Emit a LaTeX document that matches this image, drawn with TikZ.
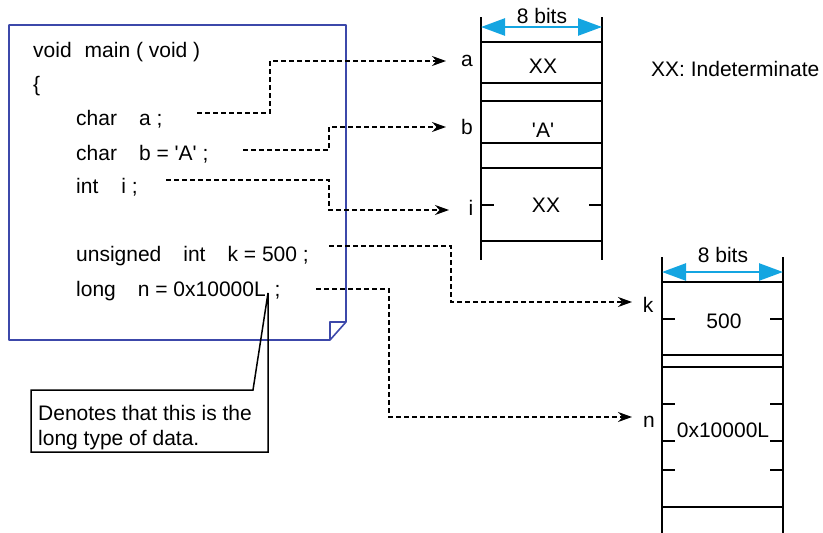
\documentclass[tikz,border=0pt]{standalone}
\usepackage{fontspec}
\setmainfont{Liberation Sans}
\usetikzlibrary{arrows.meta}
\definecolor{boxblue}{RGB}{60,72,170}
\definecolor{bitcyan}{RGB}{20,165,225}
\begin{document}
\begin{tikzpicture}[x=1pt,y=-1pt,
  txt/.style={inner sep=0pt, font=\fontsize{21}{25}\selectfont},
  code/.style={txt, anchor=base west},
  dashline/.style={line width=1.6pt, dash pattern=on 5pt off 3pt, -{Stealth[length=14pt,width=10pt]}},
  mem/.style={line width=2.8pt},
  bits/.style={bitcyan, line width=2.5pt, {Triangle[length=24pt,width=17pt]}-{Triangle[length=24pt,width=17pt]}},
  ]
\useasboundingbox (0,0) rectangle (823,533);

% code sheet
\draw[boxblue, line width=1.6pt, line join=round] (346,322) -- (346,25) -- (9,25) -- (9,340) -- (330,340) -- cycle;
\draw[boxblue, line width=1.6pt, line join=round] (330,340) -- (330,322) -- (346,322);

\node[code] (l1) at (33,57) {void\hspace{13pt}main ( void )};
\node[code] (l2) at (33,91) {\{};
\node[code] (l3) at (76,125) {char\hspace{22pt}a ;};
\node[code] (l4) at (76,160) {char\hspace{22pt}b = \textquotesingle A\textquotesingle\ ;};
\node[code] (l5) at (76,193) {int\hspace{23pt}i ;};
\node[code] (l6) at (76,261) {unsigned\hspace{22pt}int\hspace{22pt}k = 500 ;};
\node[code] (l7) at (76,296) {long\hspace{22pt}n = 0x10000L\hspace{9pt};};

% memory column 1
\draw[mem] (481,17) -- (481,260);
\draw[mem] (602,17) -- (602,260);
\foreach \yy in {42,83,101,143,168,241} \draw[mem] (481,\yy) -- (602,\yy);
\draw[mem] (481,205) -- (494,205);
\draw[mem] (589,205) -- (602,205);
\draw[bits] (481,27) -- (602,27);
\node[txt] (w1) at (542,16) {8 bits};
\node[txt] (va) at (543,66) {XX};
\node[txt] (vb) at (543,130) {\textquotesingle A\textquotesingle};
\node[txt] (vi) at (546,205) {XX};
\node[txt, anchor=west] (legend) at (651,69) {XX: Indeterminate};

% memory column 2
\draw[mem] (662,257) -- (662,533);
\draw[mem] (783,257) -- (783,533);
\foreach \yy in {282,355,367,507} \draw[mem] (662,\yy) -- (783,\yy);
\foreach \yy in {319,404,441,470} {
  \draw[mem] (662,\yy) -- (675,\yy);
  \draw[mem] (770,\yy) -- (783,\yy);
}
\draw[bits] (662,272) -- (783,272);
\node[txt] (w2) at (723,255) {8 bits};
\node[txt] (vk) at (724,321) {500};
\node[txt] (vn) at (723,430) {0x10000L};

% variable labels
\node[txt] (la) at (467,61) {a};
\node[txt] (lb) at (467,127) {b};
\node[txt] (li) at (471,208) {i};
\node[txt] (lk) at (648,305) {k};
\node[txt] (ln) at (649,422) {n};

% connector start and end points
\coordinate (sa) at (197,113);
\coordinate (sb) at (243,150);
\coordinate (si) at (166,180);
\coordinate (sk) at (329,246);
\coordinate (sn) at (316,289);
\coordinate (ta) at (446,61);
\coordinate (tb) at (446,127);
\coordinate (ti) at (449,210);
\coordinate (tk) at (632,302);
\coordinate (tn) at (632,417);

\draw[dashline] (sa) -- (270,113) |- (ta);
\draw[dashline] (sb) -- (329,150) |- (tb);
\draw[dashline] (si) -- (329,180) |- (ti);
\draw[dashline] (sk) -- (451,246) |- (tk);
\draw[dashline] (sn) -- (389,289) |- (tn);

% callout
\draw[line width=1.5pt, line join=miter] (31,390) -- (253,390) -- (268,293) -- (268,452) -- (31,452) -- cycle;
\node[txt, anchor=north west, align=left] (note) at (38,405) {Denotes that this is the\\long type of data.};
\end{tikzpicture}
\end{document}
